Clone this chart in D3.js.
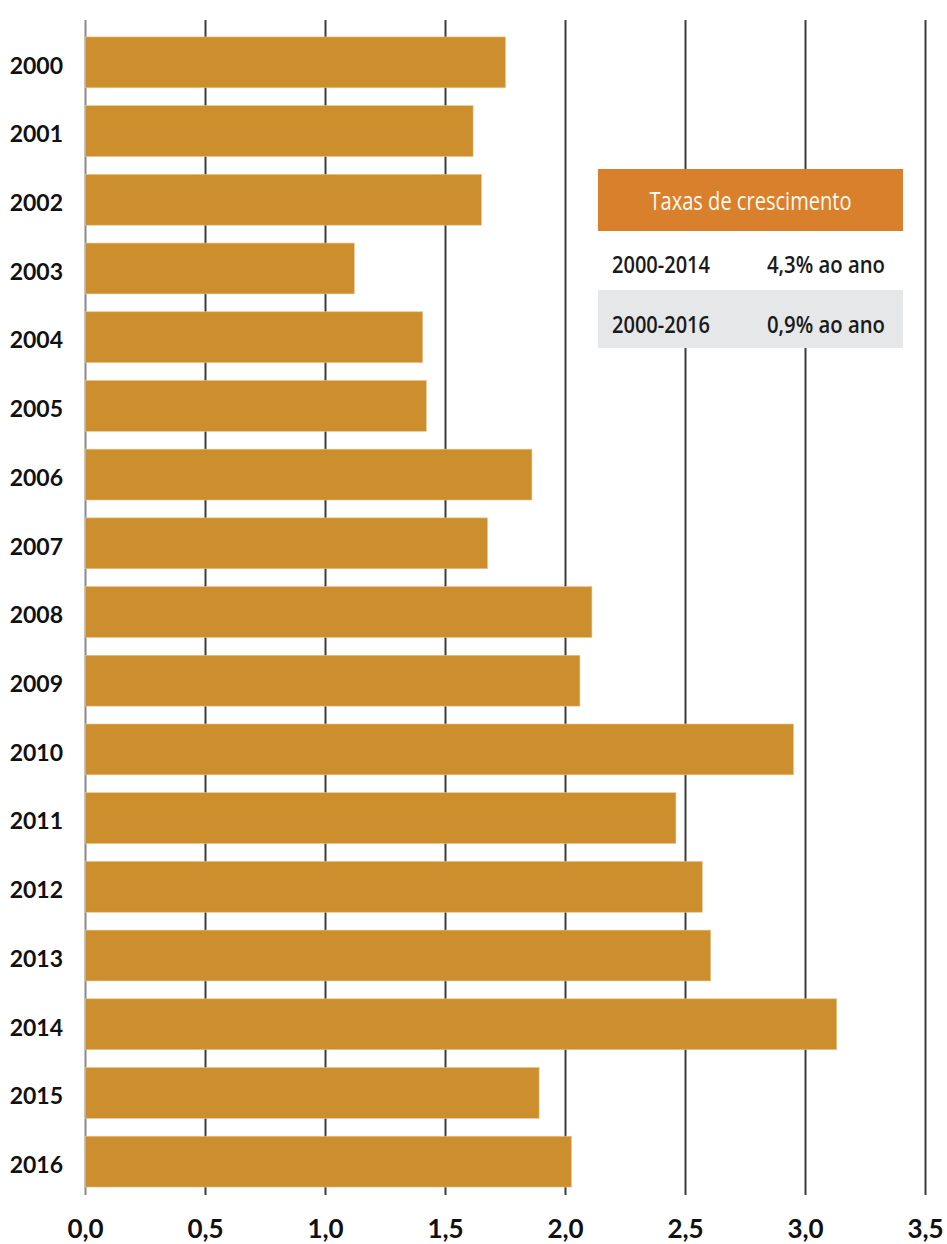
<!DOCTYPE html>
<html>
<head>
<meta charset="utf-8">
<script src="https://cdn.jsdelivr.net/npm/d3@7"></script>
<style>
    body { margin: 0; background: #fff; }
    .year-label { font-family: Lato, sans-serif; font-weight: 700; font-size: 23px; fill: #111; }
    .tick-label { font-family: Lato, sans-serif; font-weight: 700; font-size: 26px; fill: #111; }
    .legend-text { font-family: "Open Sans", sans-serif; font-size: 24px; font-weight: 600; fill: #1a1a1a; }
    .legend-title { font-family: "Open Sans", sans-serif; font-size: 25px; font-weight: 500; fill: #fff8ee; }
</style>
</head>
<body>
<svg id="chart" width="947" height="1244"></svg>
<script>
const years = ['2000', '2001', '2002', '2003', '2004', '2005', '2006', '2007', '2008',
               '2009', '2010', '2011', '2012', '2013', '2014', '2015', '2016'];
const values = [1.75, 1.615, 1.65, 1.12, 1.405, 1.42, 1.86, 1.675, 2.11,
                2.06, 2.95, 2.46, 2.57, 2.605, 3.13, 1.89, 2.025];
const xTicks = [0, 0.5, 1.0, 1.5, 2.0, 2.5, 3.0, 3.5];
const legendTitle = 'Taxas de crescimento';
const legendPeriods = ['2000-2014', '2000-2016'];
const legendRates = ['4,3% ao ano', '0,9% ao ano'];

const svg = d3.select('#chart');

//Scales
let xScale = d3.scaleLinear()
                .domain([0, 3.5])
                .range([85.5, 925.5]);

let yScale = d3.scaleBand()
                .domain(years)
                .range([28, 1196])
                .paddingInner(0.26)
                .paddingOuter(0.13);

//Grid lines (behind the bars)
svg.append('g')
    .selectAll('line')
    .data(xTicks)
    .enter()
    .append('line')
        .attr('x1', d => xScale(d))
        .attr('x2', d => xScale(d))
        .attr('y1', 20)
        .attr('y2', 1195)
        .attr('stroke', d => d === 0 ? '#8a8a8a' : '#3c3c3c')
        .attr('stroke-width', 2);

//Legend box background hides the grid
const lx = 598, lw = 305;
svg.append('rect')
    .attr('x', lx).attr('y', 169)
    .attr('width', lw).attr('height', 179)
    .attr('fill', '#fff');

//Bars
svg.append('g')
    .selectAll('rect')
    .data(values)
    .enter()
    .append('rect')
        .attr('x', xScale(0))
        .attr('y', (d, i) => yScale(years[i]))
        .attr('width', d => xScale(d) - xScale(0))
        .attr('height', yScale.bandwidth())
        .attr('fill', '#cd8f2e')
        .attr('stroke', '#e9c48f')
        .attr('stroke-width', 0.6);

//Year labels
svg.append('g')
    .selectAll('text')
    .data(years)
    .enter()
    .append('text')
        .classed('year-label', true)
        .attr('x', 63)
        .attr('y', d => yScale(d) + yScale.bandwidth() / 2 + 3)
        .attr('dy', '0.36em')
        .attr('text-anchor', 'end')
        .text(d => d);

//x-Axis labels
const fmt = d3.format('.1f');
svg.append('g')
    .selectAll('text')
    .data(xTicks)
    .enter()
    .append('text')
        .classed('tick-label', true)
        .attr('x', d => xScale(d))
        .attr('y', 1238)
        .attr('text-anchor', 'middle')
        .text(d => fmt(d).replace('.', ','));

//Legend
svg.append('rect')
    .attr('x', lx).attr('y', 169)
    .attr('width', lw).attr('height', 62)
    .attr('fill', '#d9802d');
svg.append('text')
    .classed('legend-title', true)
    .attr('x', lx + lw / 2)
    .attr('y', 201)
    .attr('dy', '0.36em')
    .attr('text-anchor', 'middle')
    .attr('textLength', 202)
    .attr('lengthAdjust', 'spacingAndGlyphs')
    .text(legendTitle);

svg.append('rect')
    .attr('x', lx).attr('y', 290)
    .attr('width', lw).attr('height', 58)
    .attr('fill', '#e6e7e8');

legendPeriods.forEach((p, i) => {
    const cy = 264 + i * 60;
    svg.append('text')
        .classed('legend-text', true)
        .attr('x', 612)
        .attr('y', cy)
        .attr('dy', '0.36em')
        .attr('textLength', 98)
        .attr('lengthAdjust', 'spacingAndGlyphs')
        .text(p);
    svg.append('text')
        .classed('legend-text', true)
        .attr('x', 767)
        .attr('y', cy)
        .attr('dy', '0.36em')
        .attr('textLength', 118)
        .attr('lengthAdjust', 'spacingAndGlyphs')
        .text(legendRates[i]);
});
</script>
</body>
</html>
